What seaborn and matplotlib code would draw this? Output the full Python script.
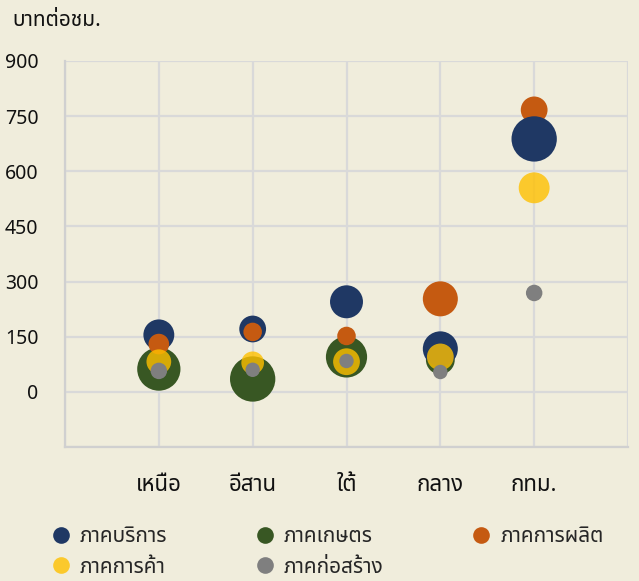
import pandas as pd
import seaborn as sns
import matplotlib.pyplot as plt
from matplotlib import font_manager
from matplotlib.lines import Line2D
from fontTools.ttLib import TTFont

# Find an installed font that has Thai glyphs
def find_thai_font():
    names = []
    for f in font_manager.fontManager.ttflist:
        try:
            tt = TTFont(f.fname, fontNumber=0, lazy=True)
            cmap = tt.getBestCmap()
            if cmap and 0x0E01 in cmap and 0x0E49 in cmap:
                names.append(f.name)
        except Exception:
            continue
    for pref in ['Noto Sans Thai', 'Noto Sans Thai UI', 'Sarabun', 'Loma', 'Garuda', 'Kinnari']:
        if pref in names:
            return pref
    return names[0] if names else 'DejaVu Sans'

# Data: hourly wage (baht/hour) and bubble size (relative workforce) by region
regions = ['เหนือ', 'อีสาน', 'ใต้', 'กลาง', 'กทม.']
sectors = ['ภาคบริการ', 'ภาคเกษตร', 'ภาคการผลิต', 'ภาคการค้า', 'ภาคก่อสร้าง']

wage_service = [155, 171, 245, 117, 688]
wage_agri = [62, 35, 95, 87, None]
wage_manuf = [130, 163, 152, 253, 767]
wage_trade = [82, 79, 82, 95, 555]
wage_constr = [57, 60, 84, 54, 269]

size_service = [225, 169, 256, 289, 484]
size_agri = [441, 484, 400, 196, None]
size_manuf = [100, 81, 81, 289, 169]
size_trade = [144, 121, 169, 169, 225]
size_constr = [64, 49, 49, 49, 64]

colors = {
    'ภาคบริการ': '#1F3864',
    'ภาคเกษตร': '#385723',
    'ภาคการผลิต': '#C55A11',
    'ภาคการค้า': '#FFC000CC',
    'ภาคก่อสร้าง': '#7F7F7F',
}

# drawing order (bottom -> top) per region
draw_order = {
    'เหนือ': ['ภาคเกษตร', 'ภาคบริการ', 'ภาคการผลิต', 'ภาคการค้า', 'ภาคก่อสร้าง'],
    'อีสาน': ['ภาคเกษตร', 'ภาคบริการ', 'ภาคการผลิต', 'ภาคการค้า', 'ภาคก่อสร้าง'],
    'ใต้': ['ภาคเกษตร', 'ภาคบริการ', 'ภาคการผลิต', 'ภาคการค้า', 'ภาคก่อสร้าง'],
    'กลาง': ['ภาคเกษตร', 'ภาคบริการ', 'ภาคการค้า', 'ภาคก่อสร้าง', 'ภาคการผลิต'],
    'กทม.': ['ภาคการผลิต', 'ภาคบริการ', 'ภาคการค้า', 'ภาคก่อสร้าง'],
}

wages = dict(zip(sectors, [wage_service, wage_agri, wage_manuf, wage_trade, wage_constr]))
sizes = dict(zip(sectors, [size_service, size_agri, size_manuf, size_trade, size_constr]))

rows = []
for i, r in enumerate(regions):
    for s in draw_order[r]:
        if wages[s][i] is None:
            continue
        rows.append({'x': i, 'region': r, 'sector': s, 'wage': wages[s][i], 'size': sizes[s][i]})
df = pd.DataFrame(rows)

sns.set_style('white')
thai = find_thai_font()
plt.rcParams['font.family'] = [thai, 'DejaVu Sans']

bg = '#F0EDDC'
fig = plt.figure(figsize=(6.39, 5.81), dpi=100, facecolor=bg)
ax = fig.add_axes([65 / 639, 1 - 447 / 581, 563 / 639, 386 / 581], facecolor=bg)

k = 2.2  # px radius^2 -> points^2
smin, smax = df['size'].min(), df['size'].max()
sns.scatterplot(data=df, x='x', y='wage', hue='sector', size='size', palette=colors,
                sizes=(smin * k, smax * k), size_norm=(smin, smax), linewidth=0,
                legend=False, ax=ax, zorder=3)

ax.set_xlim(-1, 5)
ax.set_ylim(-150, 900)
ax.set_xticks(range(-1, 6))
ax.set_xticklabels([''] + regions + [''])
ax.set_yticks(range(-150, 901, 150))
ax.set_yticklabels([''] + [str(v) for v in range(0, 901, 150)])
ax.grid(True, color='#D9D9D9', linewidth=1.6, zorder=0)
ax.set_axisbelow(True)
for side in ['top', 'right']:
    ax.spines[side].set_visible(False)
for side in ['left', 'bottom']:
    ax.spines[side].set_color('#D0D0D0')
    ax.spines[side].set_linewidth(1.6)
ax.tick_params(axis='both', length=0, colors='#111111')
ax.tick_params(axis='x', pad=20, labelsize=16)
ax.tick_params(axis='y', pad=19, labelsize=14)
ax.set_xlabel('')
ax.set_ylabel('')

fig.text(12 / 639, 1 - 21 / 581, 'บาทต่อชม.', fontsize=15, va='center', ha='left', color='#111111')

legend_order = ['ภาคบริการ', 'ภาคการค้า', 'ภาคเกษตร', 'ภาคก่อสร้าง', 'ภาคการผลิต']
handles = [Line2D([], [], marker='o', linestyle='', markersize=12,
                  markerfacecolor=colors[s], markeredgewidth=0, label=s) for s in legend_order]
fig.legend(handles=handles, loc='upper left', bbox_to_anchor=(40 / 639, 1 - 518 / 581),
           ncol=3, frameon=False, fontsize=15, handletextpad=0.3, columnspacing=4.1,
           labelspacing=0.45, handlelength=1.2, borderaxespad=0)

fig.savefig('out.png', dpi=100, facecolor=bg)
